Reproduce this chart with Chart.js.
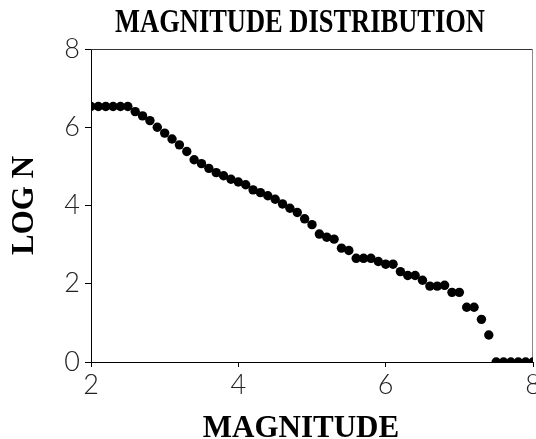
<!DOCTYPE html>
<html>
<head>
<meta charset="utf-8">
<title>Magnitude distribution</title>
<script src="https://cdn.jsdelivr.net/npm/chart.js@4/dist/chart.umd.min.js"></script>
<style>
  html, body { margin: 0; padding: 0; background: #fff; }
  #wrap { width: 536px; height: 439px; }
</style>
</head>
<body>
<div id="wrap"><canvas id="magChart" width="536" height="439"></canvas></div>
<script>
// magnitude bins, 0.1 wide
var magnitudes = [
    2.0, 2.1, 2.2, 2.3, 2.4, 2.5, 2.6, 2.7, 2.8, 2.9,
    3.0, 3.1, 3.2, 3.3, 3.4, 3.5, 3.6, 3.7, 3.8, 3.9,
    4.0, 4.1, 4.2, 4.3, 4.4, 4.5, 4.6, 4.7, 4.8, 4.9,
    5.0, 5.1, 5.2, 5.3, 5.4, 5.5, 5.6, 5.7, 5.8, 5.9,
    6.0, 6.1, 6.2, 6.3, 6.4, 6.5, 6.6, 6.7, 6.8, 6.9,
    7.0, 7.1, 7.2, 7.3, 7.4, 7.5, 7.6, 7.7, 7.8, 7.9, 8.0
];
// log of the cumulative count for each bin
var logN = [
    6.53, 6.53, 6.53, 6.53, 6.53, 6.53, 6.40, 6.29, 6.17, 6.00,
    5.85, 5.70, 5.55, 5.38, 5.17, 5.07, 4.95, 4.84, 4.76, 4.67,
    4.60, 4.53, 4.40, 4.33, 4.25, 4.16, 4.04, 3.93, 3.82, 3.66,
    3.51, 3.27, 3.19, 3.14, 2.91, 2.85, 2.65, 2.65, 2.65, 2.57,
    2.50, 2.50, 2.31, 2.21, 2.21, 2.09, 1.94, 1.94, 1.96, 1.78,
    1.78, 1.40, 1.40, 1.09, 0.69, 0, 0, 0, 0, 0, 0
];
var xTicks = [2, 4, 6, 8];
var yTicks = [0, 2, 4, 6, 8];

var points = magnitudes.map(function (m, i) {
    return { x: m, y: logN[i] };
});

var serif = '"Liberation Serif", "Times New Roman", serif';
var thin = 'Lato, "DejaVu Sans", sans-serif';

// top/right frame lines plus the chart and x-axis titles
var frame = {
    id: 'frame',
    beforeDatasetsDraw: function (chart) {
        var a = chart.chartArea, c = chart.ctx;
        c.save();
        c.lineWidth = 1;
        c.strokeStyle = '#333';
        c.beginPath();
        c.moveTo(a.left, a.top + 0.5);
        c.lineTo(a.right, a.top + 0.5);
        c.stroke();
        c.strokeStyle = '#888';
        c.beginPath();
        c.moveTo(a.right - 0.5, a.top);
        c.lineTo(a.right - 0.5, a.bottom);
        c.stroke();
        c.restore();
    },
    afterDraw: function (chart) {
        var c = chart.ctx;
        c.save();
        c.fillStyle = '#000';
        c.textAlign = 'center';
        c.textBaseline = 'alphabetic';
        // title set a little taller than the face's natural shape
        c.save();
        c.translate(300, 32);
        c.scale(0.98, 1.24);
        c.font = 'bold 27px ' + serif;
        c.fillText('MAGNITUDE DISTRIBUTION', 0, 0);
        c.restore();
        c.font = 'bold 31px ' + serif;
        c.fillText('MAGNITUDE', 301, 437);
        c.restore();
    }
};

var ctx = document.getElementById('magChart').getContext('2d');
var magChart = new Chart(ctx, {
    type: 'scatter',
    data: {
        datasets: [{
            data: points,
            backgroundColor: '#000',
            borderWidth: 0,
            pointRadius: 4.7,
            pointHoverRadius: 4.7
        }]
    },
    options: {
        responsive: false,
        animation: false,
        layout: { autoPadding: false, padding: { left: 6, right: 3, top: 49, bottom: 0 } },
        plugins: {
            legend: { display: false },
            tooltip: { enabled: false },
            title: { display: false }
        },
        scales: {
            x: {
                type: 'linear',
                min: 2,
                max: 8,
                // let the last tick label run off the edge instead of shrinking the plot
                afterFit: function (s) { s.height = 77; s.paddingLeft = 0; s.paddingRight = 0; },
                afterBuildTicks: function (s) { s.ticks = xTicks.map(function (v) { return { value: v }; }); },
                border: { display: true, color: '#000', width: 1 },
                grid: { drawOnChartArea: false, drawTicks: true, tickLength: 5, color: '#000' },
                ticks: {
                    color: '#222',
                    padding: 2,
                    font: { family: thin, size: 27, weight: 300 }
                },
                title: { display: false }
            },
            y: {
                min: 0,
                max: 8,
                afterFit: function (s) { s.width = 85; s.paddingTop = 0; s.paddingBottom = 0; },
                afterBuildTicks: function (s) { s.ticks = yTicks.map(function (v) { return { value: v }; }); },
                border: { display: true, color: '#000', width: 1 },
                grid: { drawOnChartArea: false, drawTicks: true, tickLength: 6, color: '#000' },
                ticks: {
                    color: '#222',
                    padding: 5,
                    font: { family: thin, size: 27, weight: 300 }
                },
                title: {
                    display: true,
                    text: 'LOG N',
                    color: '#000',
                    padding: { top: 0, bottom: 4 },
                    font: { family: serif, size: 31, weight: 'bold' }
                }
            }
        }
    },
    plugins: [frame]
});
</script>
</body>
</html>
